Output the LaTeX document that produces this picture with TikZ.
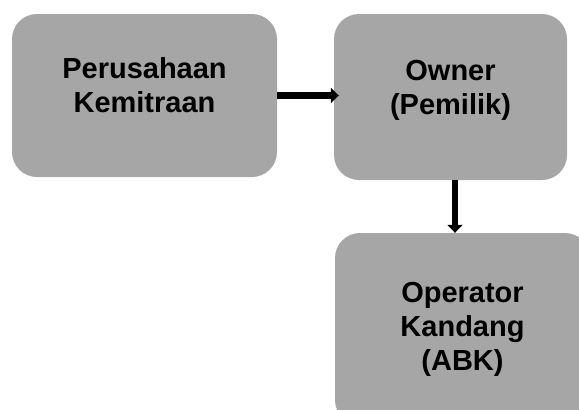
\documentclass[tikz,border=0pt]{standalone}
\usepackage{fontspec}
\setmainfont{Liberation Sans}
\usetikzlibrary{positioning, arrows.meta, calc}

\begin{document}
\begin{tikzpicture}[
  x=1pt, y=-1pt,
  font=\fontsize{29}{34}\selectfont\bfseries,
  cell/.style={fill=boxgray, rounded corners=25pt, inner sep=0pt},
  lbl/.style={align=center, inner sep=0pt, text=black},
  arr/.style={-{Triangle[length=8pt, width=15pt]}, line width=6.5pt}
]
\definecolor{boxgray}{HTML}{A6A6A6}
\useasboundingbox (0,0) rectangle (579,410);
\clip (0,0) rectangle (579,410);
\node[cell, minimum width=265pt, minimum height=163pt] (pk) at (144.5,95.5) {};
\node[cell, minimum width=233pt, minimum height=166pt] (own) at (450.5,97) {};
\node[cell, minimum width=255pt, minimum height=192pt] (abk) at (462.5,329) {};
\node[lbl, below=43pt of pk.north] (pk-txt) {Perusahaan\\Kemitraan};
\node[lbl, below=46pt of own.north] (own-txt) {Owner\\(Pemilik)};
\node[lbl, below=49pt of abk.north] (abk-txt) {Operator\\Kandang\\(ABK)};
\draw[arr, shorten >=-5pt] (pk.east) -- (pk.east -| own.west);
\draw[arr] ([xshift=4.5pt]own.south) -- ([xshift=4.5pt]own.south |- abk.north);
\end{tikzpicture}
\end{document}
